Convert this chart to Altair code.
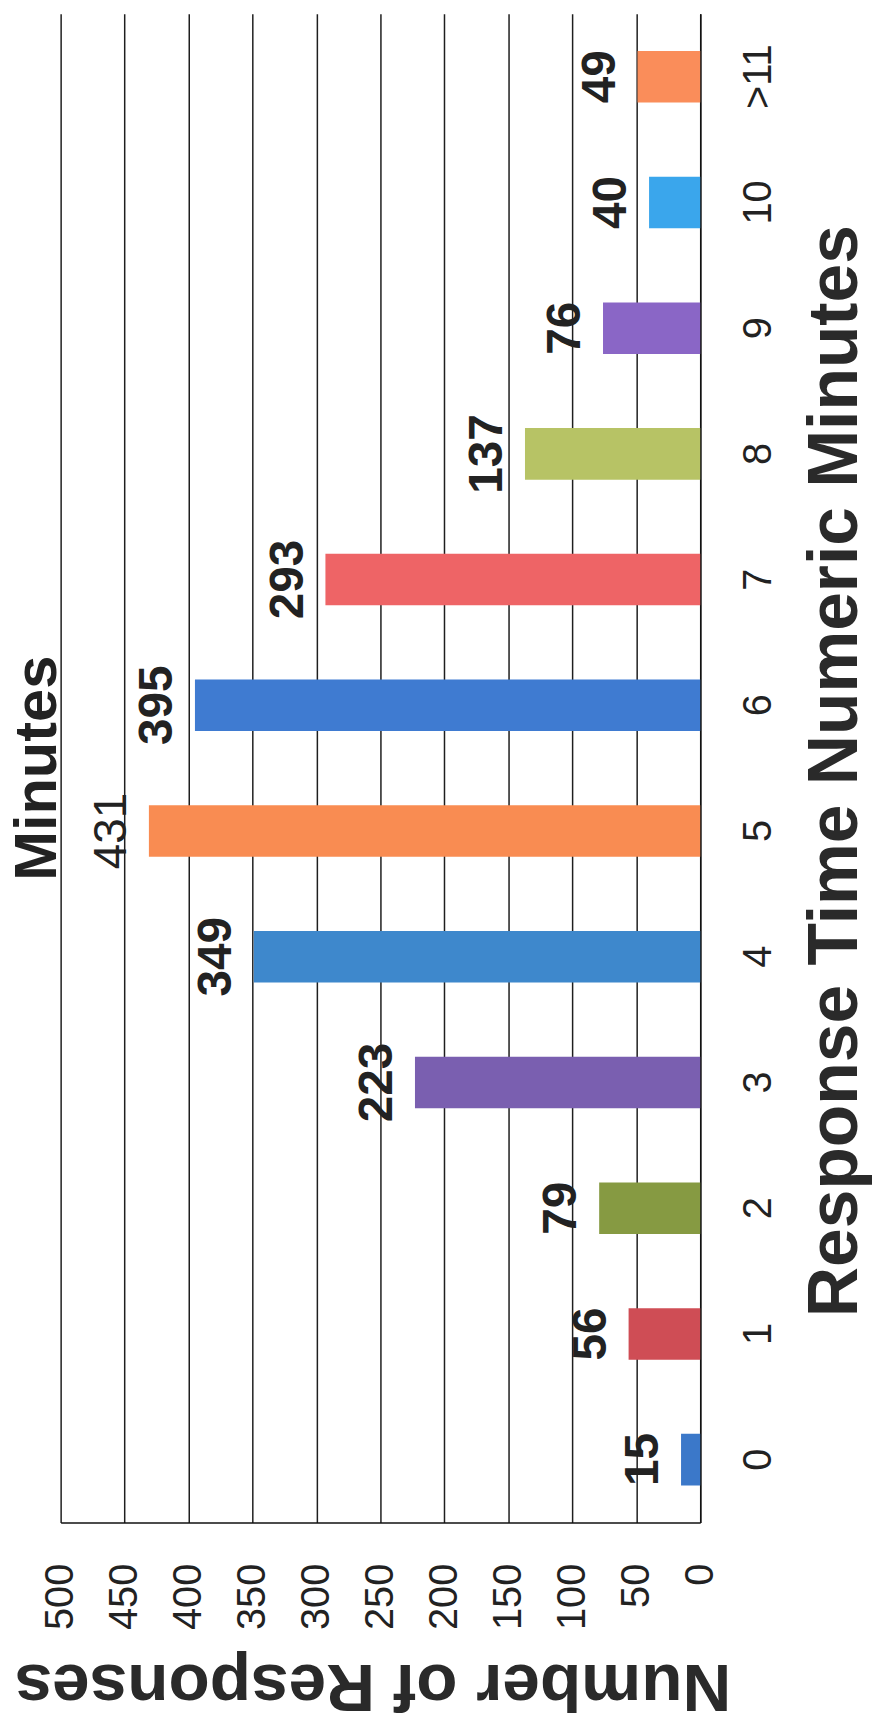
import altair as alt
import pandas as pd

# ---- data ----
categories = ["0", "1", "2", "3", "4", "5", "6", "7", "8", "9", "10", ">11"]
responses = [15, 56, 79, 223, 349, 431, 395, 293, 137, 76, 40, 49]
bar_colors = ["#3B78C9", "#CF4D55", "#869A42", "#7A5FB0", "#3E88CC", "#F98C52",
              "#3F7BD1", "#EE6466", "#B7C365", "#8A66C6", "#3AA6EC", "#FA8D5A"]
label_weights = ["bold", "bold", "bold", "bold", "bold", "normal",
                 "bold", "bold", "bold", "bold", "bold", "bold"]
value_ticks = [0, 50, 100, 150, 200, 250, 300, 350, 400, 450, 500]

df = pd.DataFrame({"minutes": categories, "responses": responses, "weight": label_weights})

FONT = "Liberation Sans"
INK = "#222222"
order = list(reversed(categories))

x_enc = alt.X(
    "responses:Q",
    scale=alt.Scale(domain=[0, 500], reverse=True, nice=False),
    axis=alt.Axis(
        orient="bottom", values=value_ticks, title="Number of Responses",
        labelAngle=270, labelAlign="right", labelBaseline="middle",
        labelPadding=41, labelFontSize=40, labelFont=FONT, labelColor=INK,
        labelOverlap=False, labelFlush=False,
        grid=True, gridColor="#1e1e1e", gridWidth=1.5,
        ticks=False, tickSize=0, domainColor="#111111", domainWidth=1.5,
        titleAngle=180, titleAlign="center", titleBaseline="bottom",
        titleX=314, titleY=129, titleFont=FONT, titleFontSize=68,
        titleFontWeight="bold", titleColor="#2a2a2a",
    ),
)

y_enc = alt.Y(
    "minutes:N", sort=order,
    scale=alt.Scale(paddingInner=0.59, paddingOuter=0.295),
    axis=alt.Axis(
        orient="right", title="Response Time Numeric Minutes",
        labelAngle=270, labelAlign="center", labelBaseline="top",
        labelPadding=39, labelFontSize=40, labelFont=FONT, labelColor=INK,
        ticks=False, tickSize=0, domainColor="#111111", domainWidth=1.5,
        grid=False, labelOverlap=False,
        titleAngle=270, titleAlign="center", titleBaseline="alphabetic",
        titleX=157, titleY=762, titleFont=FONT, titleFontSize=70,
        titleFontWeight="bold", titleColor="#2a2a2a",
    ),
)

color_enc = alt.Color("minutes:N", scale=alt.Scale(domain=categories, range=bar_colors), legend=None)

base = alt.Chart(df)

bars = base.mark_bar().encode(x=x_enc, y=y_enc, color=color_enc)

labels_bold = base.mark_text(
    angle=270, align="center", baseline="bottom", dy=-13,
    font=FONT, fontSize=48, fontWeight="bold", color=INK,
).encode(x=x_enc, y=y_enc, text="responses:Q").transform_filter(alt.datum.weight == "bold")

labels_normal = base.mark_text(
    angle=270, align="center", baseline="bottom", dy=-13,
    font=FONT, fontSize=46, fontWeight="normal", color=INK,
).encode(x=x_enc, y=y_enc, text="responses:Q").transform_filter(alt.datum.weight == "normal")

chart = alt.layer(bars, labels_bold, labels_normal).properties(
    width=644,
    height=1519,
    title=alt.TitleParams(
        text="Minutes", orient="left", anchor="middle", offset=-55,
        font=FONT, fontSize=60, fontWeight="bold", color=INK,
    ),
    autosize=alt.AutoSizeParams(type="none"),
    padding={"left": 53, "top": 0, "right": 180, "bottom": 198},
).configure_view(stroke=None)

chart.save("out.html", embed_options={"renderer": "svg", "actions": False})
